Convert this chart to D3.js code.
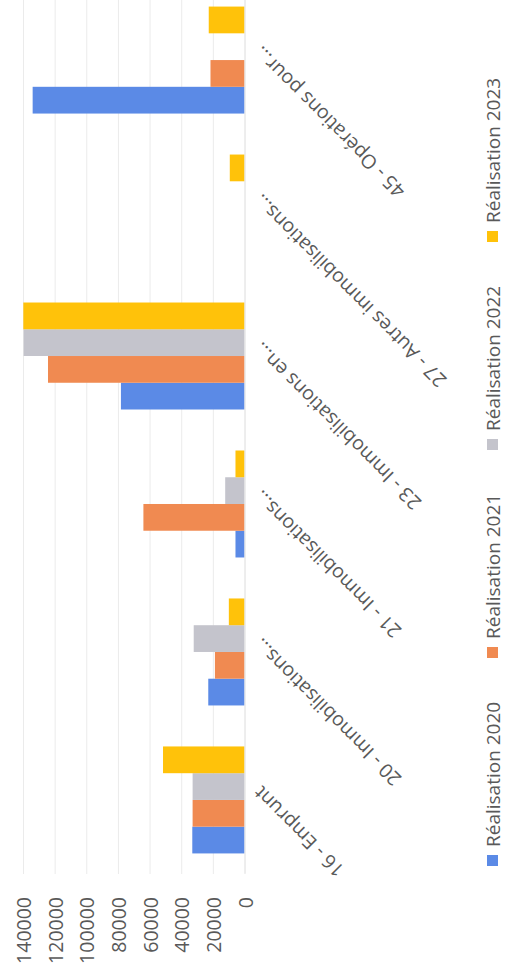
<!DOCTYPE html>
<meta charset="utf-8">
<script src="https://cdn.jsdelivr.net/npm/d3@7"></script>
<style>
  body { margin: 0; background: #fff; }
  text { font-family: "Open Sans", sans-serif; fill: #595959; }
</style>
<body>
<script>

var categories = ["16 - Emprunt", "20 - Immobilisations…", "21 - Immobilisations…",
                  "23 - Immobilisations en…", "27 - Autres immobilisations…", "45 - Opérations pour…"];
var seriesNames = ["Réalisation 2020", "Réalisation 2021", "Réalisation 2022", "Réalisation 2023"];
var real2020 = [33000, 22900, 5700, 78100, 0, 133900];
var real2021 = [32800, 18700, 63900, 124200, 0, 21500];
var real2022 = [32800, 32100, 12200, 139600, 0, 0];
var real2023 = [51500, 9900, 5700, 139800, 9300, 22600];
var yTicks = [0, 20000, 40000, 60000, 80000, 100000, 120000, 140000];
var colors = ["#5b8ae6", "#f08a51", "#c4c4cc", "#ffc20a"];

var W = 506, H = 978;
var series = [real2020, real2021, real2022, real2023];

var svg = d3.select("body").append("svg")
    .attr("width", W)
    .attr("height", H);

// the chart is drawn upright, then turned a quarter turn to the left
var g = svg.append("g")
    .attr("transform", "translate(0," + H + ") rotate(-90)");

var x = d3.scaleBand()
    .domain(categories)
    .range([104, 992])
    .paddingInner(0.277)
    .paddingOuter(0.139);

var x1 = d3.scaleBand()
    .domain(seriesNames)
    .range([0, x.bandwidth()]);

var y = d3.scaleLinear()
    .domain([0, 140000])
    .range([244.5, 23]);

// gridlines
var grid = g.append("g")
    .attr("transform", "translate(104,0)")
    .call(d3.axisLeft(y).tickValues(yTicks).tickSize(-(992 - 104)).tickFormat(""));
grid.select(".domain").remove();
grid.selectAll("line").attr("stroke", "#ebebeb").attr("stroke-width", 1);

// value axis labels
var yAxis = g.append("g")
    .attr("transform", "translate(89,0)")
    .call(d3.axisLeft(y).tickValues(yTicks).tickSize(0).tickPadding(8).tickFormat(d3.format("d")));
yAxis.select(".domain").remove();
yAxis.selectAll("text")
    .attr("font-size", 19.5)
    .attr("dy", null)
    .attr("dominant-baseline", "central");

// bars
var groups = g.append("g").selectAll("g")
    .data(categories)
  .enter().append("g")
    .attr("transform", function(d) { return "translate(" + x(d) + ",0)"; });

groups.selectAll("rect")
    .data(function(d, i) {
        return seriesNames.map(function(s, j) { return {name: s, value: series[j][i], k: j}; });
    })
  .enter().append("rect")
    .attr("x", function(d) { return x1(d.name); })
    .attr("width", x1.bandwidth())
    .attr("y", function(d) { return y(d.value); })
    .attr("height", function(d) { return y(0) - y(d.value); })
    .attr("fill", function(d) { return colors[d.k]; });

// category axis
var xAxis = g.append("g")
    .attr("transform", "translate(0," + y(0) + ")")
    .call(d3.axisBottom(x).tickSize(0));
xAxis.select(".domain")
    .attr("stroke", "#e6e6e6");
xAxis.selectAll("text")
    .attr("font-size", 19.5)
    .attr("y", 0)
    .attr("dy", null)
    .attr("text-anchor", "end")
    .attr("transform", "translate(15,17.5) rotate(-45)");

// legend
var lx = d3.scaleBand()
    .domain(seriesNames)
    .range([112, 112 + 4 * 208]);

var legend = g.append("g").selectAll("g")
    .data(seriesNames)
  .enter().append("g")
    .attr("transform", function(d) { return "translate(" + lx(d) + ",487)"; });

legend.append("rect")
    .attr("width", 11)
    .attr("height", 11)
    .attr("fill", function(d, i) { return colors[i]; });

legend.append("text")
    .attr("x", 19)
    .attr("y", 5.5)
    .attr("font-size", 19)
    .attr("dominant-baseline", "central")
    .text(function(d) { return d; });

</script>
